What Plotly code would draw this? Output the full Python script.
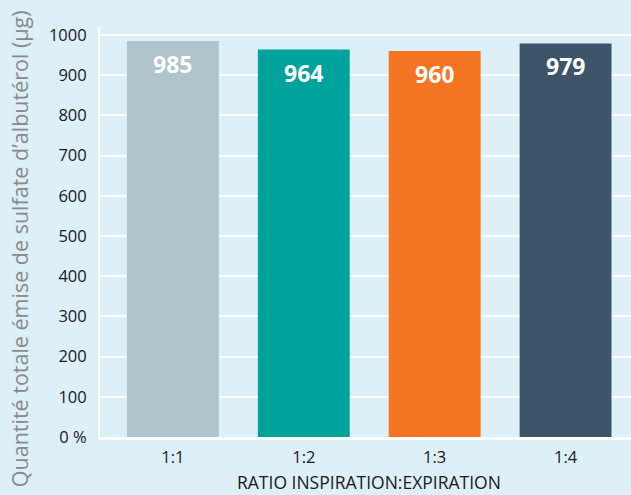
import plotly.graph_objects as go

categories = ["1:1", "1:2", "1:3", "1:4"]
values = [985, 964, 960, 979]
bar_colors = ["#B0C4CB", "#00A39B", "#F47521", "#3D5469"]
y_tickvals = [0, 100, 200, 300, 400, 500, 600, 700, 800, 900, 1000]
y_ticktext = ["0 %", "100", "200", "300", "400", "500", "600", "700", "800", "900", "1000"]

BG = "#DDEFF7"
FONT = "Open Sans"

fig = go.Figure()
fig.add_trace(go.Bar(
    x=categories, y=values,
    marker=dict(color=bar_colors, line=dict(width=0)),
    hoverinfo="skip",
))

for c, v in zip(categories, values):
    fig.add_annotation(x=c, y=v, xref="x", yref="y", text=f"<b>{v}</b>",
                       showarrow=False, yanchor="middle", yshift=-23,
                       font=dict(family=FONT, size=23, color="white"))

fig.add_annotation(text="Quantité totale émise de sulfate d’albutérol (µg)",
                   xref="paper", yref="paper", x=-0.151, y=0.46,
                   textangle=-90, showarrow=False, xanchor="center", yanchor="middle",
                   font=dict(family=FONT, size=21.5, color="#8a8a8a"))
fig.add_annotation(text="RATIO INSPIRATION:EXPIRATION",
                   xref="paper", yref="paper", x=0.506, y=-0.110,
                   showarrow=False, xanchor="center", yanchor="middle",
                   font=dict(family=FONT, size=17.5, color="#1a1a1a"))

fig.update_layout(
    width=631, height=495,
    margin=dict(l=100, r=0, t=27, b=58),
    paper_bgcolor=BG, plot_bgcolor=BG,
    bargap=0.298,
    showlegend=False,
    font=dict(family=FONT, color="#1a1a1a"),
    xaxis=dict(type="category", range=[-0.557, 3.5], showgrid=False,
               showline=True, linecolor="white", linewidth=3,
               ticks="", tickfont=dict(size=16.5, color="#1a1a1a"),
               ticklabelstandoff=3),
    yaxis=dict(range=[0, 1020], tickvals=y_tickvals, ticktext=y_ticktext,
               showgrid=True, gridcolor="white", gridwidth=2,
               showline=True, linecolor="white", linewidth=2,
               zeroline=False, ticks="", ticklabelstandoff=8,
               tickfont=dict(size=16.5, color="#1a1a1a")),
)

fig.write_html("out.html", config={"displayModeBar": False},
               post_script="document.body.style.margin='0px';document.body.style.background='" + BG + "';")
